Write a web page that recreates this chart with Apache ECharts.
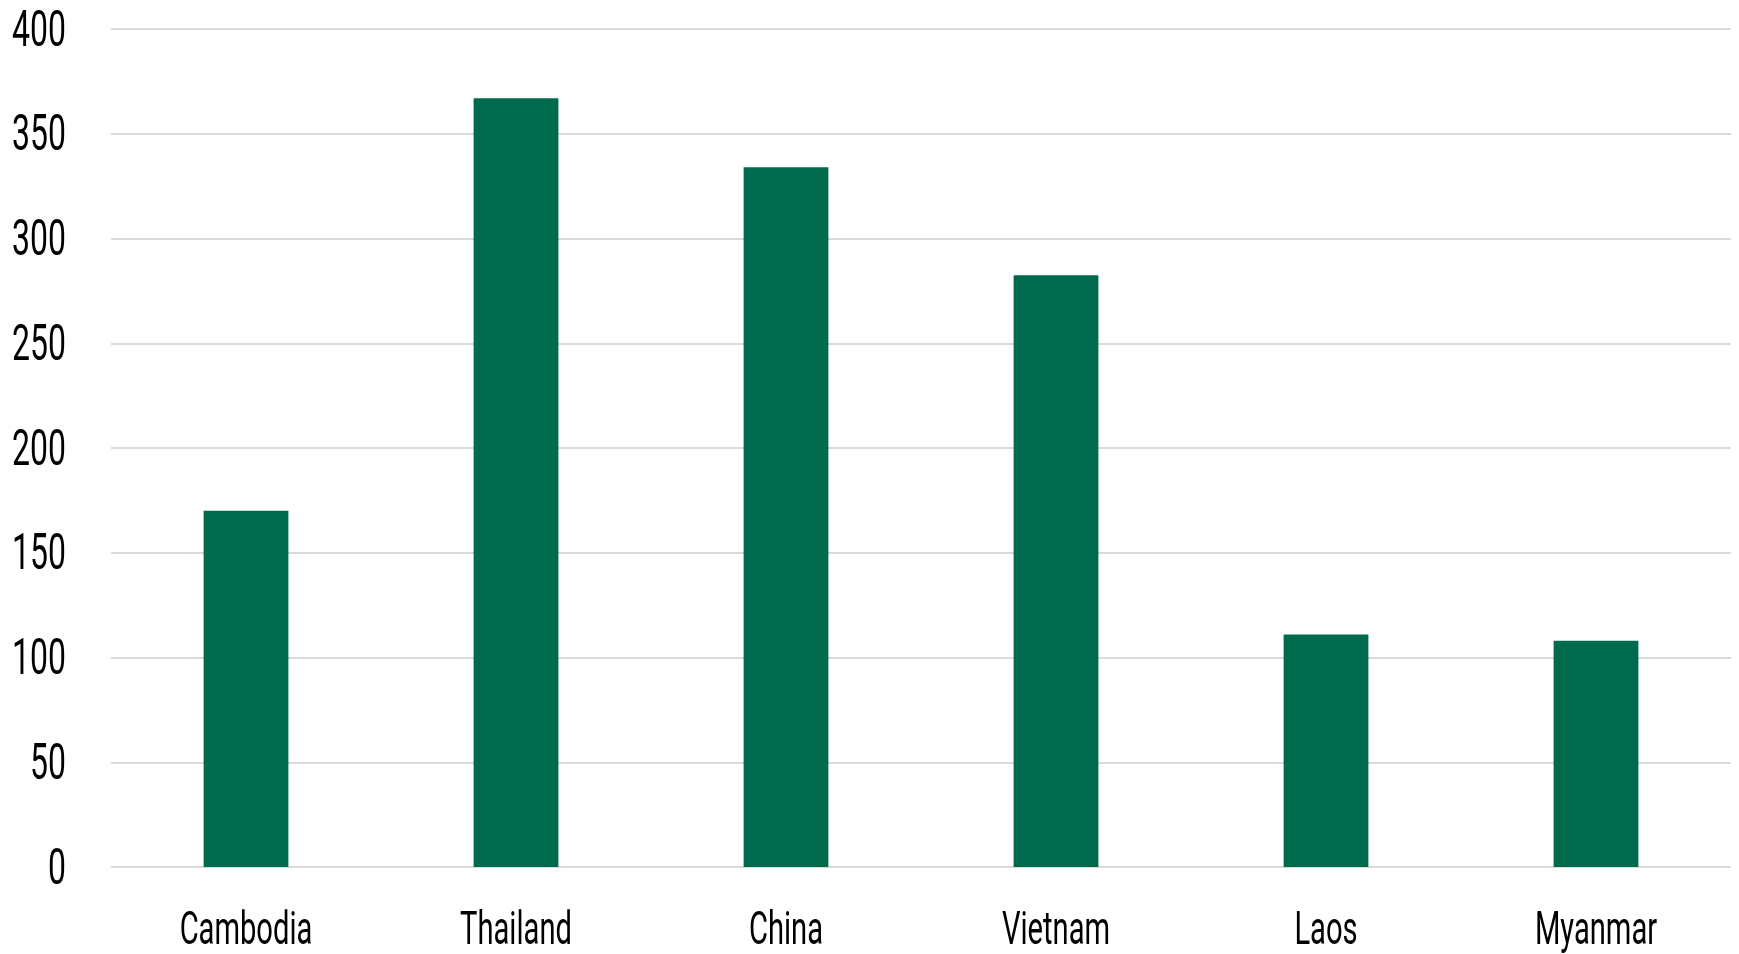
<!DOCTYPE html>
<html>
<head>
<meta charset="utf-8">
<script src="https://cdn.jsdelivr.net/npm/echarts@6/dist/echarts.min.js"></script>
<style>
    html, body { margin: 0; padding: 0; background: #fff; }
    #chart { width: 1739px; height: 954px; }
</style>
</head>
<body>
<div id="chart"></div>
<script>
// Values
const countries = ['Cambodia', 'Thailand', 'China', 'Vietnam', 'Laos', 'Myanmar'];
const values = [170, 367, 334, 282.5, 111, 108];
const yTicks = [0, 50, 100, 150, 200, 250, 300, 350, 400];

// The reference uses a very condensed face; none is installed, so labels are
// drawn as text elements squeezed horizontally.
const FONT = 'Roboto, "DejaVu Sans Condensed", sans-serif';

function labelStyle(text, align, size) {
    return {
        text: text,
        fill: '#000',
        font: `${size}px ${FONT}`,
        align: align,
        verticalAlign: 'middle',
    };
}

const chart = echarts.init(document.getElementById('chart'));
chart.setOption({
    animation: false,
    backgroundColor: '#ffffff',
    grid: { left: 111, right: 8, top: 29, bottom: 87, outerBoundsMode: 'none' },
    xAxis: {
        type: 'category',
        data: countries,
        axisLine: { show: false },
        axisTick: { show: false },
        axisLabel: { show: false },
    },
    yAxis: {
        type: 'value',
        min: 0,
        max: 400,
        interval: 50,
        axisLine: { show: false },
        axisTick: { show: false },
        axisLabel: { show: false },
        splitLine: { lineStyle: { color: '#d9d9d9', width: 2 } },
    },
    series: [
        {
            type: 'bar',
            data: values,
            barWidth: '31.4%',
            itemStyle: { color: '#006b4c' },
        },
        {
            // category labels under the axis
            type: 'custom',
            clip: false,
            silent: true,
            data: countries.map((c, i) => [i, 0]),
            renderItem: (params, api) => {
                const p = api.coord([api.value(0), 0]);
                return {
                    type: 'text',
                    x: p[0],
                    y: p[1] + 65,
                    scaleX: 0.62,
                    style: labelStyle(countries[params.dataIndex], 'center', 47),
                };
            },
        },
        {
            // value labels left of the grid
            type: 'custom',
            clip: false,
            silent: true,
            data: yTicks.map((v) => [0, v]),
            renderItem: (params, api) => {
                const p = api.coord([0, api.value(1)]);
                return {
                    type: 'text',
                    x: params.coordSys.x - 45,
                    y: p[1] + 4,
                    scaleX: 0.64,
                    style: labelStyle(String(yTicks[params.dataIndex]), 'right', 50),
                };
            },
        },
    ],
});
</script>
</body>
</html>
